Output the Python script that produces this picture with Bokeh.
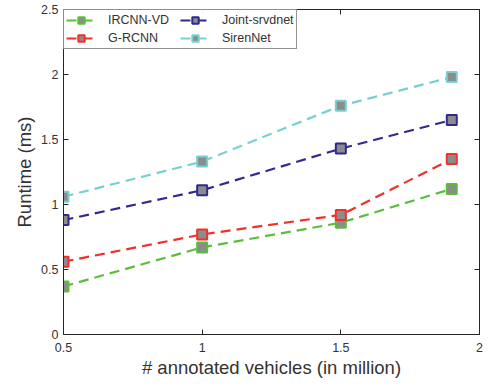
from bokeh.plotting import figure
from bokeh.models import LinearAxis, Legend, LegendItem, FixedTicker, Range1d, CustomJSTickFormatter
from bokeh.embed import file_html
from bokeh.resources import INLINE

x_vals = [0.5, 1.0, 1.5, 1.9]
series_names = ["IRCNN-VD", "G-RCNN", "Joint-srvdnet", "SirenNet"]
ircnn_vd = [0.37, 0.67, 0.86, 1.12]
g_rcnn = [0.56, 0.77, 0.92, 1.35]
joint_srvdnet = [0.88, 1.11, 1.43, 1.65]
sirennet = [1.06, 1.33, 1.76, 1.98]
x_ticks = [0.5, 1, 1.5, 2]
y_ticks = [0, 0.5, 1, 1.5, 2, 2.5]

series_values = [ircnn_vd, g_rcnn, joint_srvdnet, sirennet]
colors = ["#5bbd3c", "#f0302a", "#2f2a8e", "#79d0d0"]

FONT = "Liberation Sans"
TXT = "#333333"

p = figure(width=487, height=384, output_backend="svg", toolbar_location=None,
           x_range=Range1d(0.5, 2), y_range=Range1d(0, 2.5),
           min_border_left=63, min_border_right=8, min_border_top=9, min_border_bottom=50)
p.grid.visible = False
p.outline_line_color = "#262626"
p.outline_line_width = 1
p.background_fill_color = "white"

for ax in (p.xaxis[0], p.yaxis[0]):
    ax.major_tick_in = 5
    ax.major_tick_out = 0
    ax.minor_tick_line_color = None
    ax.axis_line_color = "#262626"
    ax.major_tick_line_color = "#262626"
    ax.major_label_text_font = FONT
    ax.major_label_text_font_size = "12.5px"
    ax.major_label_text_color = TXT
    ax.axis_label_text_font = FONT
    ax.axis_label_text_font_size = "18.5px"
    ax.axis_label_text_font_style = "normal"
    ax.axis_label_text_color = TXT

p.xaxis[0].ticker = FixedTicker(ticks=x_ticks)
p.yaxis[0].ticker = FixedTicker(ticks=y_ticks)
p.xaxis[0].axis_label = "# annotated vehicles (in million)"
p.yaxis[0].axis_label = "Runtime (ms)"
p.xaxis[0].major_label_standoff = 8
p.yaxis[0].major_label_standoff = 5
p.xaxis[0].axis_label_standoff = 2
p.yaxis[0].axis_label_standoff = 3

blank = CustomJSTickFormatter(code="return ''")
for loc, tick in (("right", y_ticks), ("above", x_ticks)):
    a = LinearAxis(ticker=FixedTicker(ticks=tick), formatter=blank,
                   major_tick_in=5, major_tick_out=0, major_label_text_font_size="1px",
                   minor_tick_line_color=None, major_label_standoff=0,
                   axis_line_color="#262626", major_tick_line_color="#262626")
    p.add_layout(a, loc)

items = []
for name, vals, c in zip(series_names, series_values, colors):
    ln = p.line(x_vals, vals, line_color=c, line_width=2.2, line_dash="10 6")
    sc = p.scatter(x_vals, vals, marker="square", size=10, fill_color="#8c8c8c",
                   line_color=c, line_width=2)
    items.append(LegendItem(label=name, renderers=[ln, sc]))

legend = Legend(items=items, location="top_left", ncols=2,
                label_text_font=FONT, label_text_font_size="12.5px", label_text_color=TXT,
                border_line_color="#262626", border_line_width=1,
                glyph_width=30, glyph_height=16, label_height=16, label_width=70,
                spacing=2, padding=2, margin=0, label_standoff=12)
p.add_layout(legend)

open("out.html", "w").write(file_html(p, INLINE))
